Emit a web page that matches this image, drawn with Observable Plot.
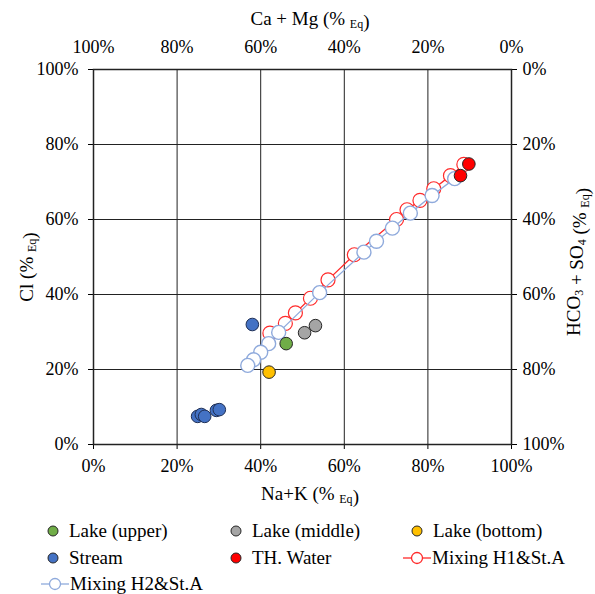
<!DOCTYPE html>
<html>
<head>
<meta charset="utf-8">
<script src="https://cdn.jsdelivr.net/npm/d3@7"></script>
<script src="https://cdn.jsdelivr.net/npm/@observablehq/plot@0.6"></script>
<style>
  body { margin: 0; background: #fff; }
  #chart svg { display: block; overflow: visible; }
  #legend { position: relative; width: 595px; height: 84px; font-family: "Liberation Serif", "DejaVu Serif", serif; font-size: 19px; color: #000; }
  .item { position: absolute; display: flex; align-items: center; white-space: nowrap; line-height: 1; font-family: "Liberation Serif", "DejaVu Serif", serif; }
  .item span { font-family: "Liberation Serif", "DejaVu Serif", serif; font-size: 19px; }
  .item svg { display: block; }
</style>
</head>
<body>
<div id="chart"></div>
<div id="legend"></div>
<script>
// ---- data (percent of equivalents) ----
const ticks = [0, 20, 40, 60, 80, 100];

const lakeUpperX = [46.1];
const lakeUpperY = [26.9];

const lakeMiddleX = [50.5, 53.1];
const lakeMiddleY = [29.8, 31.7];

const lakeBottomX = [42.0];
const lakeBottomY = [19.3];

const streamX = [38.0, 24.9, 25.8, 26.6, 29.4, 30.1];
const streamY = [32.0, 7.5, 8.0, 7.5, 9.1, 9.3];

const thWaterX = [89.8, 87.8];
const thWaterY = [74.8, 71.7];

const mixH1X = [88.6, 85.4, 81.4, 78.1, 75.0, 72.5, 62.4, 56.1, 51.9, 48.3, 45.9, 42.2];
const mixH1Y = [74.7, 71.7, 68.2, 65.1, 62.6, 60.0, 50.6, 43.9, 39.0, 35.1, 32.3, 29.7];

const mixH2X = [86.4, 81.0, 75.8, 71.5, 67.7, 64.7, 54.1, 44.3, 41.9, 40.0, 38.3, 36.9];
const mixH2Y = [70.9, 66.4, 61.7, 57.7, 54.2, 51.3, 40.5, 29.9, 26.9, 24.6, 22.6, 21.1];

const legendLabels = ["Lake (upper)", "Lake (middle)", "Lake (bottom)", "Stream", "TH. Water", "Mixing H1&St.A", "Mixing H2&St.A"];

// ---- build tables ----
const zip = (xs, ys) => xs.map((x, i) => ({x, y: ys[i]}));
const lakeUpper = zip(lakeUpperX, lakeUpperY);
const lakeMiddle = zip(lakeMiddleX, lakeMiddleY);
const lakeBottom = zip(lakeBottomX, lakeBottomY);
const stream = zip(streamX, streamY);
const thWater = zip(thWaterX, thWaterY);
const mixH1 = zip(mixH1X, mixH1Y);
const mixH2 = zip(mixH2X, mixH2Y);

const C = {
  green: "#70AD47", gray: "#A5A5A5", yellow: "#FFC000", blue: "#4472C4",
  red: "#FF0000", h1: "#FF2A2A", h2: "#8FAADC", outline: "#262626"
};

const font = "Liberation Serif";
const pct = d => d + "%";
const inv = d => (100 - d) + "%";
const noText = () => "";
const lbl = {fontSize: 18, fontFamily: font, fill: "#000", lineAnchor: "middle"};

const chart = Plot.plot({
  width: 595,
  height: 510,
  marginLeft: 93,
  marginRight: 84,
  marginTop: 69,
  marginBottom: 66,
  x: {domain: [0, 100]},
  y: {domain: [0, 100]},
  style: {fontFamily: font, fontSize: "18px", color: "#000", background: "#fff", overflow: "visible"},
  marks: [
    Plot.gridX(ticks, {stroke: "#222", strokeOpacity: 1, strokeWidth: 1}),
    Plot.gridY(ticks, {stroke: "#222", strokeOpacity: 1, strokeWidth: 1}),
    // tick marks
    Plot.axisX(ticks, {anchor: "bottom", tickSize: 5, tickFormat: noText, label: null}),
    Plot.axisY(ticks, {anchor: "left", tickSize: 5, tickFormat: noText, label: null}),
    Plot.axisY(ticks, {anchor: "right", tickSize: 5, tickFormat: noText, label: null}),
    // tick labels on the x / y scales
    Plot.text(ticks, {...lbl, x: d => d, frameAnchor: "bottom", dy: 22, text: pct}),
    Plot.text(ticks, {...lbl, x: d => d, frameAnchor: "top", dy: -22, text: inv}),
    Plot.text(ticks, {...lbl, y: d => d, frameAnchor: "left", dx: -15, textAnchor: "end", text: pct}),
    Plot.text(ticks, {...lbl, y: d => d, frameAnchor: "right", dx: 11, textAnchor: "start", text: inv}),
    Plot.frame({stroke: "#222", strokeWidth: 1.5}),
    Plot.line(mixH1, {x: "x", y: "y", stroke: C.h1, strokeWidth: 1.3}),
    Plot.dot(mixH1, {x: "x", y: "y", r: 7, fill: "white", stroke: C.h1, strokeWidth: 1.2}),
    Plot.line(mixH2, {x: "x", y: "y", stroke: C.h2, strokeWidth: 1.3}),
    Plot.dot(mixH2, {x: "x", y: "y", r: 7, fill: "white", stroke: C.h2, strokeWidth: 1.4}),
    Plot.dot(lakeUpper, {x: "x", y: "y", r: 6.3, fill: C.green, stroke: C.outline, strokeWidth: 1}),
    Plot.dot(lakeMiddle, {x: "x", y: "y", r: 6.3, fill: C.gray, stroke: C.outline, strokeWidth: 1}),
    Plot.dot(lakeBottom, {x: "x", y: "y", r: 6.3, fill: C.yellow, stroke: C.outline, strokeWidth: 1}),
    Plot.dot(stream, {x: "x", y: "y", r: 6.3, fill: C.blue, stroke: "#1F2F55", strokeWidth: 1}),
    Plot.dot(thWater, {x: "x", y: "y", r: 6.3, fill: C.red, stroke: C.outline, strokeWidth: 1})
  ]
});
document.getElementById("chart").appendChild(chart);

// ---- axis titles with subscripts ----
const svg = d3.select(chart);
function title(transform, parts) {
  const t = svg.append("text")
    .attr("transform", transform)
    .attr("text-anchor", "middle")
    .attr("font-family", font)
    .attr("font-size", 19)
    .attr("fill", "#000");
  parts.forEach(([s, sub]) => {
    if (sub) {
      t.append("tspan").attr("font-size", 12).attr("dy", 3).text(s);
      t.append("tspan").attr("dy", -3).text("");
    } else {
      t.append("tspan").text(s);
    }
  });
}
title("translate(310,25)", [["Ca + Mg (% "], ["Eq", true], [")"]]);
title("translate(310,500)", [["Na+K (% "], ["Eq", true], [")"]]);
title("translate(33,267) rotate(-90)", [["Cl (% "], ["Eq", true], [")"]]);
title("translate(580,262) rotate(-90)", [["HCO"], ["3", true], [" + SO"], ["4", true], [" (% "], ["Eq", true], [")"]]);

// ---- legend ----
const legendSpec = [
  {type: "dot", color: C.green, left: 46, top: 11},
  {type: "dot", color: C.gray, left: 229, top: 11},
  {type: "dot", color: C.yellow, left: 410, top: 11},
  {type: "dot", color: C.blue, left: 46, top: 38},
  {type: "dot", color: C.red, left: 229, top: 38},
  {type: "line", color: C.h1, left: 403, top: 38},
  {type: "line", color: C.h2, left: 41, top: 64}
];
const legend = d3.select("#legend");
legendSpec.forEach((s, i) => {
  const item = legend.append("div").attr("class", "item")
    .style("left", s.left + "px").style("top", s.top + "px");
  if (s.type === "dot") {
    const g = item.append("svg").attr("width", 14).attr("height", 18).style("margin-right", "9px");
    g.append("circle").attr("cx", 7).attr("cy", 9).attr("r", 5)
      .attr("fill", s.color).attr("stroke", C.outline).attr("stroke-width", 1);
  } else {
    const g = item.append("svg").attr("width", 28).attr("height", 18).style("margin-right", "1px");
    g.append("line").attr("x1", 0).attr("x2", 28).attr("y1", 9).attr("y2", 9)
      .attr("stroke", s.color).attr("stroke-width", 1.3);
    g.append("circle").attr("cx", 14).attr("cy", 9).attr("r", 5.5)
      .attr("fill", "white").attr("stroke", s.color).attr("stroke-width", 1.3);
  }
  item.append("span").text(legendLabels[i]);
});
</script>
</body>
</html>
